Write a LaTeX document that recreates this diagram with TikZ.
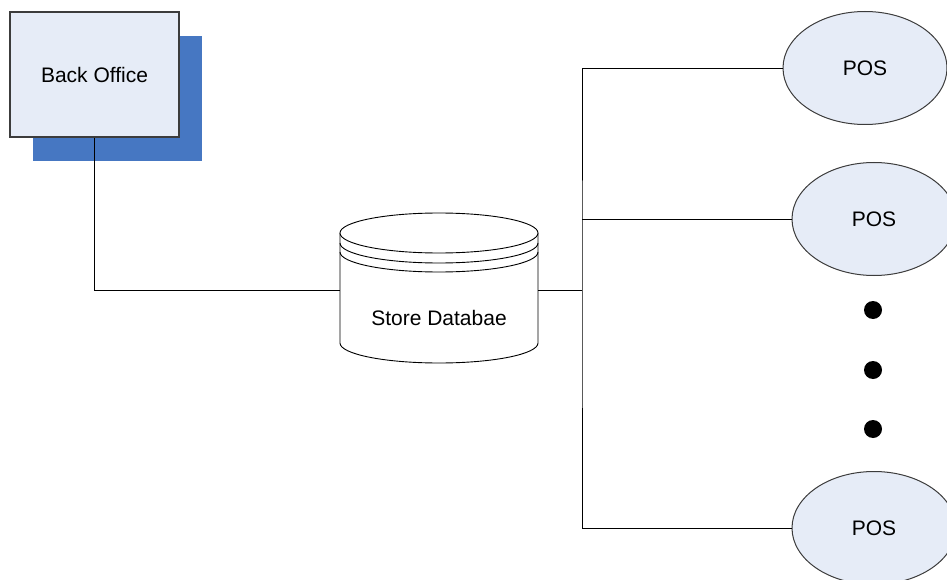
\documentclass[tikz,border=0pt]{standalone}
\usepackage{fontspec}
\setmainfont{Liberation Sans}
\usetikzlibrary{shapes.geometric,shadows}
\definecolor{boxfill}{RGB}{230,236,247}
\definecolor{shadowblue}{RGB}{70,119,194}
\definecolor{edgegray}{RGB}{60,60,60}
\begin{document}
\begin{tikzpicture}[x=1pt, y=-1pt,
        font=\fontsize{21}{25}\selectfont,
        officebox/.style={draw=edgegray, line width=1.2pt, fill=boxfill,
            minimum width=169pt, minimum height=125pt, inner sep=0pt,
            drop shadow={shadow xshift=23pt, shadow yshift=-24pt, fill=shadowblue, opacity=1}},
        posnode/.style={ellipse, draw=edgegray, line width=1pt, fill=boxfill,
            minimum width=164pt, minimum height=113pt, inner sep=0pt},
        dbnode/.style={minimum width=198pt, minimum height=148pt, inner sep=0pt},
        dotnode/.style={circle, fill=black, minimum size=18pt, inner sep=0pt},
        wire/.style={line width=0.9pt}]
    % the frame
    \useasboundingbox (0,0) rectangle (947,580);

    % back office
    \node[officebox] (office) at (94.5,74.5) {Back Office};

    % the database
    \node[dbnode] (db) at (439,290) {};
    \draw[wire, fill=white] (340,233) -- (340,343) arc[start angle=180, end angle=0, x radius=99, y radius=20] -- (538,233);
    \draw[wire, fill=white] (439,233) ellipse [x radius=99, y radius=20];
    \foreach \d in {10,19} {
        \draw[wire] (340,233+\d) arc[start angle=180, end angle=0, x radius=99, y radius=20];
    };
    \node (dblabel) at (439,318) {Store Databae};

    % the tills
    \node[posnode] (pos1) at (865,68) {POS};
    \node[posnode] (pos2) at (874,219) {POS};
    \node[posnode] (pos3) at (874,528) {POS};
    \foreach \i/\y in {1/310,2/370,3/429} {
        \node[dotnode] (dot\i) at (873,\y) {};
    };

    % wires
    \coordinate (hub) at (582,290);
    \draw[wire] (office.south) |- (db.west);
    \draw[wire] (db.east) -- (hub);
    \draw[wire] (pos1.west) -| (hub) |- (pos3.west);
    \draw[wire] (pos2.west) -- (pos2.west -| hub);

\end{tikzpicture}
\end{document}
